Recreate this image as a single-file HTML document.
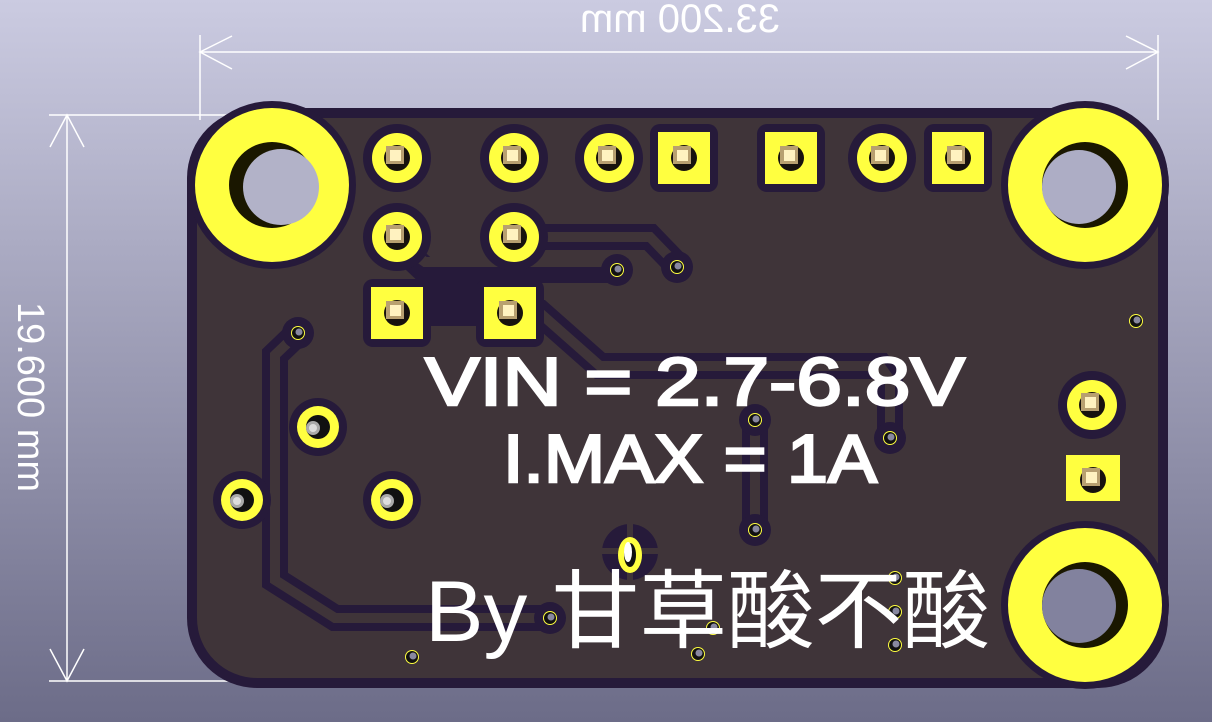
<!DOCTYPE html>
<html><head><meta charset="utf-8"><style>
html,body{margin:0;padding:0;width:1212px;height:722px;overflow:hidden}
svg{display:block}
</style></head><body>
<svg width="1212" height="722" viewBox="0 0 1212 722" xmlns="http://www.w3.org/2000/svg">
<defs>
<linearGradient id="bg" x1="0" y1="0" x2="0" y2="1">
<stop offset="0" stop-color="#cbcbe1"/><stop offset="1" stop-color="#6c6c88"/>
</linearGradient>
<g id="rdrill"><circle r="13" fill="#17120e"/><rect x="-11" y="-12" width="18" height="18" fill="#b8a070"/><rect x="-7" y="-8" width="11" height="11" fill="#fff2c0"/></g>
<g id="rpad"><circle r="34" fill="#261a3a"/><circle r="25" fill="#ffff40"/><use href="#rdrill"/></g>
<g id="spad"><rect x="-34" y="-34" width="68" height="68" rx="10" fill="#261a3a"/><rect x="-26" y="-26" width="52" height="52" fill="#ffff40"/><use href="#rdrill"/></g>
<g id="ppad"><circle r="29" fill="#261a3a"/><circle r="21" fill="#ffff40"/><circle r="12" fill="#111"/><circle cx="-5" cy="1" r="7" fill="#aaa"/><circle cx="-5" cy="1" r="4" fill="#ddd"/></g>
<g id="via"><circle r="7" fill="#ffff40"/><circle r="6" fill="#111"/><circle cx="1" cy="-1" r="3.5" fill="#8888a0"/></g>
</defs>
<rect width="1212" height="722" fill="url(#bg)"/>
<g stroke="#fff" stroke-width="1.5" fill="none">
<line x1="200" y1="35" x2="200" y2="120"/><line x1="1158" y1="35" x2="1158" y2="120"/>
<line x1="200" y1="52" x2="1158" y2="52"/>
<polyline points="232,36 200,52 232,69"/><polyline points="1126,36 1158,52 1126,69"/>
<line x1="49" y1="115" x2="300" y2="115"/><line x1="49" y1="681" x2="260" y2="681"/>
<line x1="67" y1="115" x2="67" y2="681"/>
<polyline points="50,147 67,115 84,147"/><polyline points="50,649 67,681 84,649"/>
</g>
<text x="0" y="0" transform="translate(680,32) scale(-1,1)" text-anchor="middle" font-family="Liberation Sans, sans-serif" font-size="40" fill="#fff">33.200 mm</text>
<text x="0" y="0" transform="translate(18,397) rotate(90)" text-anchor="middle" font-family="Liberation Sans, sans-serif" font-size="38" fill="#fff">19.600 mm</text>
<rect x="187" y="108" width="981" height="580" rx="70" fill="#261a3a"/>
<rect x="197" y="118" width="961" height="560" rx="60" fill="#3f3439"/>
<g fill="none" stroke-linejoin="miter" stroke-linecap="round">
<g stroke="#261a3a" stroke-width="26">
<polyline points="508,237 650,237 677,265"/>
<polyline points="390,237 425,270 617,270"/>
<polyline points="397,295 510,295"/>
<polyline points="397,313 510,313 540,313 600,366 880,366 890,380 890,438"/>
<polyline points="298,333 275,355 275,580 335,618 550,618"/>
<polyline points="755,420 755,530"/>
</g>
<g stroke="#3f3439" stroke-width="10">
<polyline points="508,237 650,237 677,265"/>
<polyline points="390,237 425,262 617,262"/>
<polyline points="540,313 600,366 880,366 890,380 890,438"/>
<polyline points="298,333 275,355 275,580 335,618 550,618"/>
<polyline points="755,420 755,530"/>
</g>
</g>
<rect x="400" y="283" width="110" height="25" fill="#261a3a"/>
<g>
<circle cx="272" cy="185" r="84" fill="#261a3a"/><circle cx="272" cy="185" r="77" fill="#ffff40"/>
<circle cx="272" cy="185" r="43" fill="#1a1700"/><circle cx="281" cy="187" r="38" fill="#b2b2c8"/>
<circle cx="1085" cy="185" r="84" fill="#261a3a"/><circle cx="1085" cy="185" r="77" fill="#ffff40"/>
<circle cx="1085" cy="185" r="43" fill="#1a1700"/><circle cx="1079" cy="187" r="37" fill="#adadc5"/>
<circle cx="1085" cy="605" r="84" fill="#261a3a"/><circle cx="1085" cy="605" r="77" fill="#ffff40"/>
<circle cx="1085" cy="605" r="43" fill="#1a1700"/><circle cx="1079" cy="606" r="37" fill="#82829e"/>
</g>
<use href="#rpad" x="397" y="158"/><use href="#rpad" x="514" y="158"/><use href="#rpad" x="609" y="158"/>
<use href="#spad" x="684" y="158"/><use href="#spad" x="791" y="158"/><use href="#rpad" x="882" y="158"/><use href="#spad" x="958" y="158"/>
<use href="#rpad" x="397" y="237"/><use href="#rpad" x="514" y="237"/>
<use href="#spad" x="397" y="313"/><use href="#spad" x="510" y="313"/>
<use href="#ppad" x="318" y="427"/><use href="#ppad" x="242" y="500"/><use href="#ppad" x="392" y="500"/>
<use href="#rpad" x="1092" y="405"/>
<rect x="1066" y="455" width="54" height="46" fill="#ffff40"/><use href="#rdrill" x="1093" y="480"/>
<g fill="#261a3a"><circle cx="617" cy="270" r="16"/><circle cx="677" cy="267" r="16"/><circle cx="298" cy="333" r="16"/><circle cx="755" cy="420" r="16"/><circle cx="890" cy="438" r="16"/><circle cx="755" cy="530" r="16"/><circle cx="550" cy="618" r="16"/></g>
<use href="#via" x="617" y="270"/><use href="#via" x="677" y="267"/><use href="#via" x="298" y="333"/><use href="#via" x="1136" y="321"/>
<use href="#via" x="755" y="420"/><use href="#via" x="890" y="438"/><use href="#via" x="755" y="530"/><use href="#via" x="550" y="618"/>
<use href="#via" x="412" y="657"/><use href="#via" x="895" y="578"/><use href="#via" x="895" y="612"/><use href="#via" x="895" y="645"/>
<use href="#via" x="713" y="628"/><use href="#via" x="698" y="654"/>
<circle cx="630" cy="552" r="28" fill="#261a3a"/>
<rect x="600" y="548" width="60" height="6" fill="#3f3439"/><rect x="627" y="520" width="6" height="64" fill="#3f3439"/>
<ellipse cx="630" cy="555" rx="12" ry="18" fill="#ffff40"/><ellipse cx="630" cy="555" rx="6" ry="12" fill="#111"/><ellipse cx="628" cy="552" rx="4" ry="10" fill="#fff"/>
<g font-family="Liberation Sans, 'Noto Sans CJK SC', sans-serif" fill="#fff">
<text x="425" y="405" font-size="68" stroke="#fff" stroke-width="2.5" textLength="540" lengthAdjust="spacingAndGlyphs">VIN = 2.7-6.8V</text>
<text x="503" y="482" font-size="68" stroke="#fff" stroke-width="2.5" textLength="374" lengthAdjust="spacingAndGlyphs">I.MAX = 1A</text>
<text x="425" y="641" font-size="86" textLength="565" lengthAdjust="spacingAndGlyphs">By 甘草酸不酸</text>
</g>
</svg>
</body></html>
